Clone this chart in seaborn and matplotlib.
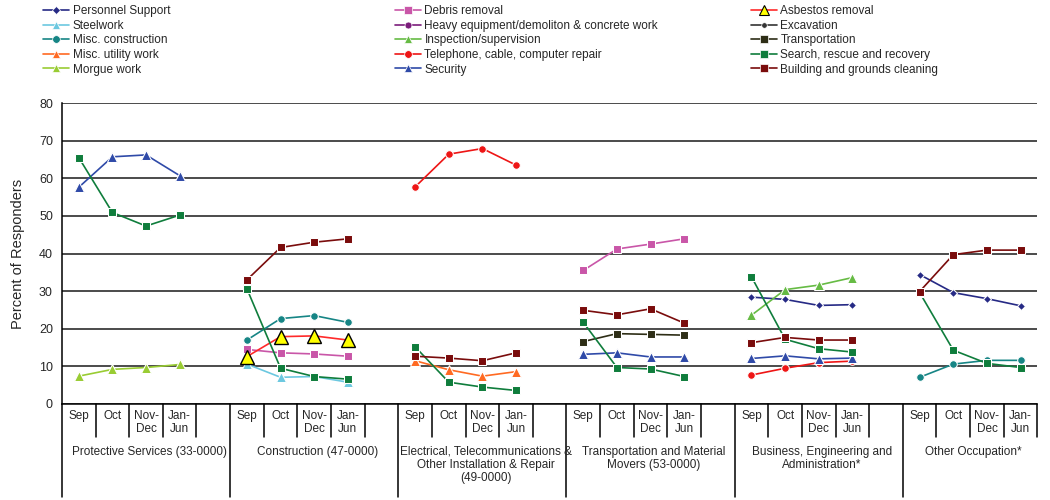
import numpy as np
import pandas as pd
import matplotlib
matplotlib.use('Agg')
import matplotlib.pyplot as plt
from matplotlib.lines import Line2D
import seaborn as sns

sns.set_style('white')
plt.rcParams['font.family'] = ['Liberation Sans', 'DejaVu Sans']

# ── categories
GROUPS = ['Protective Services (33-0000)',
          'Construction (47-0000)',
          'Electrical, Telecommunications &\nOther Installation & Repair\n(49-0000)',
          'Transportation and Material\nMovers (53-0000)',
          'Business, Engineering and\nAdministration*',
          'Other Occupation*']
PERIODS = ['Sep', 'Oct', 'Nov-\nDec', 'Jan-\nJun']

# ── values: {group index: [Sep, Oct, Nov-Dec, Jan-Jun]}
personnel    = {4: [28.4, 27.8, 26.2, 26.4], 5: [34.4, 29.6, 28.0, 26.1]}
steelwork    = {1: [10.6, 7.1, 7.3, 5.8]}
misc_constr  = {1: [17.0, 22.7, 23.5, 21.7], 5: [7.1, 10.6, 11.6, 11.6]}
misc_utility = {2: [11.5, 9.1, 7.4, 8.6]}
morgue       = {0: [7.4, 9.2, 9.7, 10.5]}
debris       = {1: [14.5, 13.6, 13.3, 12.7], 3: [35.5, 41.2, 42.5, 43.9]}
heavy_equip  = {}
inspection   = {4: [23.6, 30.4, 31.6, 33.6]}
telephone    = {2: [57.7, 66.4, 67.9, 63.5], 4: [7.7, 9.5, 11.0, 11.4]}
security     = {0: [57.6, 65.7, 66.2, 60.7], 3: [13.2, 13.6, 12.5, 12.5],
                4: [12.1, 12.8, 12.0, 12.2]}
asbestos     = {1: [12.6, 17.9, 18.1, 17.0]}
excavation   = {}
transport    = {3: [16.6, 18.7, 18.5, 18.3]}
search       = {0: [65.5, 50.9, 47.3, 50.2], 1: [30.6, 9.5, 7.3, 6.6],
                2: [15.2, 5.8, 4.5, 3.6], 3: [21.7, 9.7, 9.3, 7.3],
                4: [33.8, 17.2, 14.7, 13.8], 5: [29.6, 14.3, 10.8, 9.7]}
building     = {1: [33.0, 41.6, 43.0, 43.9], 2: [12.7, 12.2, 11.5, 13.6],
                3: [24.9, 23.7, 25.3, 21.5], 4: [16.3, 17.7, 17.0, 17.0],
                5: [29.9, 39.7, 40.9, 40.9]}

SERIES = {
    'Personnel Support': personnel,
    'Steelwork': steelwork,
    'Misc. construction': misc_constr,
    'Misc. utility work': misc_utility,
    'Morgue work': morgue,
    'Debris removal': debris,
    'Heavy equipment/demoliton & concrete work': heavy_equip,
    'Inspection/supervision': inspection,
    'Telephone, cable, computer repair': telephone,
    'Security': security,
    'Asbestos removal': asbestos,
    'Excavation': excavation,
    'Transportation': transport,
    'Search, rescue and recovery': search,
    'Building and grounds cleaning': building,
}

# colour, marker, marker size
STYLE = {
    'Personnel Support': ('#262a85', 'D', 4.5),
    'Steelwork': ('#6cc8e0', '^', 6.5),
    'Misc. construction': ('#168585', 'o', 5.5),
    'Misc. utility work': ('#ff6a22', '^', 6.5),
    'Morgue work': ('#99cc33', '^', 6.5),
    'Debris removal': ('#c956a8', 's', 5.5),
    'Heavy equipment/demoliton & concrete work': ('#7b1c7b', 'o', 5),
    'Inspection/supervision': ('#66bb44', '^', 6.5),
    'Telephone, cable, computer repair': ('#ee1515', 'o', 5.5),
    'Security': ('#2f4aa8', '^', 6.5),
    'Asbestos removal': ('#ff2a2a', '^', 9.5),
    'Excavation': ('#333333', 'o', 4),
    'Transportation': ('#2e2e16', 's', 5.5),
    'Search, rescue and recovery': ('#0f7d3c', 's', 5.5),
    'Building and grounds cleaning': ('#7a0c0c', 's', 5.5),
}

rows = []
for name, vals in SERIES.items():
    for g, ys in vals.items():
        for p, v in enumerate(ys):
            rows.append({'series': name, 'group': g, 'period': p,
                         'pos': g * 5 + p + 0.5, 'value': v})
df = pd.DataFrame(rows)

fig = plt.figure(figsize=(10.5, 5), dpi=100)
ax = fig.add_axes([0.059, 0.192, 0.929, 0.602])

for name in SERIES:
    sub = df[df['series'] == name]
    if sub.empty:
        continue
    c, m, ms = STYLE[name]
    kw = dict(markersize=ms)
    if name == 'Asbestos removal':
        kw.update(markerfacecolor='#ffff00', markeredgecolor='black', markeredgewidth=1.0)
    sns.lineplot(data=sub, x='pos', y='value', units='group', estimator=None,
                 color=c, marker=m, lw=1.2, ax=ax, legend=False, **kw)

ax.set_xlim(0, 29)
ax.set_ylim(0, 80)
ax.set_yticks(np.arange(0, 81, 10))
ax.yaxis.grid(True, color='#1a1a1a', lw=1.1)
ax.set_axisbelow(True)
for s in ['top', 'right']:
    ax.spines[s].set_visible(False)
for s in ['left', 'bottom']:
    ax.spines[s].set_color('black')
    ax.spines[s].set_linewidth(1.1)
ax.set_xticks(np.arange(0, 30))
ax.set_xticklabels([])
ax.tick_params(axis='both', direction='inout', length=6, width=1, color='black',
               labelsize=9)
ax.set_xlabel('')
ax.set_ylabel('Percent of Responders', fontsize=10.5, labelpad=10)

# multi-level category axis
trans = ax.get_xaxis_transform()
for g in range(len(GROUPS)):
    x0 = g * 5
    ax.plot([x0, x0], [0, -0.31], color='black', lw=1.1, transform=trans, clip_on=False)
    for k in range(1, 5):
        ax.plot([x0 + k, x0 + k], [0, -0.11], color='black', lw=1.1,
                transform=trans, clip_on=False)
    for p, lab in enumerate(PERIODS):
        ax.text(x0 + p + 0.5, -0.02, lab, transform=trans, ha='center', va='top',
                fontsize=8.5, multialignment='center', linespacing=1.15)
    nslots = 4 if g == len(GROUPS) - 1 else 5
    ax.text(x0 + nslots / 2 + 0.1, -0.138, GROUPS[g], transform=trans, ha='center',
            va='top', fontsize=8.5, multialignment='center', linespacing=1.15)

# legend in three columns
names = list(SERIES)
def handle(name):
    c, m, ms = STYLE[name]
    if name == 'Asbestos removal':
        return Line2D([], [], color=c, marker=m, markersize=7, lw=1.2,
                      markerfacecolor='#ffff00', markeredgecolor='black', markeredgewidth=0.8)
    return Line2D([], [], color=c, marker=m, markersize=min(ms, 5.5), lw=1.2,
                  markeredgecolor='white', markeredgewidth=0.5)

for col, x in enumerate([0.040, 0.375, 0.714]):
    chunk = names[col * 5:(col + 1) * 5]
    fig.legend([handle(n) for n in chunk], chunk, loc='upper left',
               bbox_to_anchor=(x, 0.992), frameon=False, fontsize=8.5,
               handlelength=2.2, handletextpad=0.3, labelspacing=0.22,
               borderpad=0.1, borderaxespad=0)

plt.savefig('out.png', dpi=100)
plt.close()
